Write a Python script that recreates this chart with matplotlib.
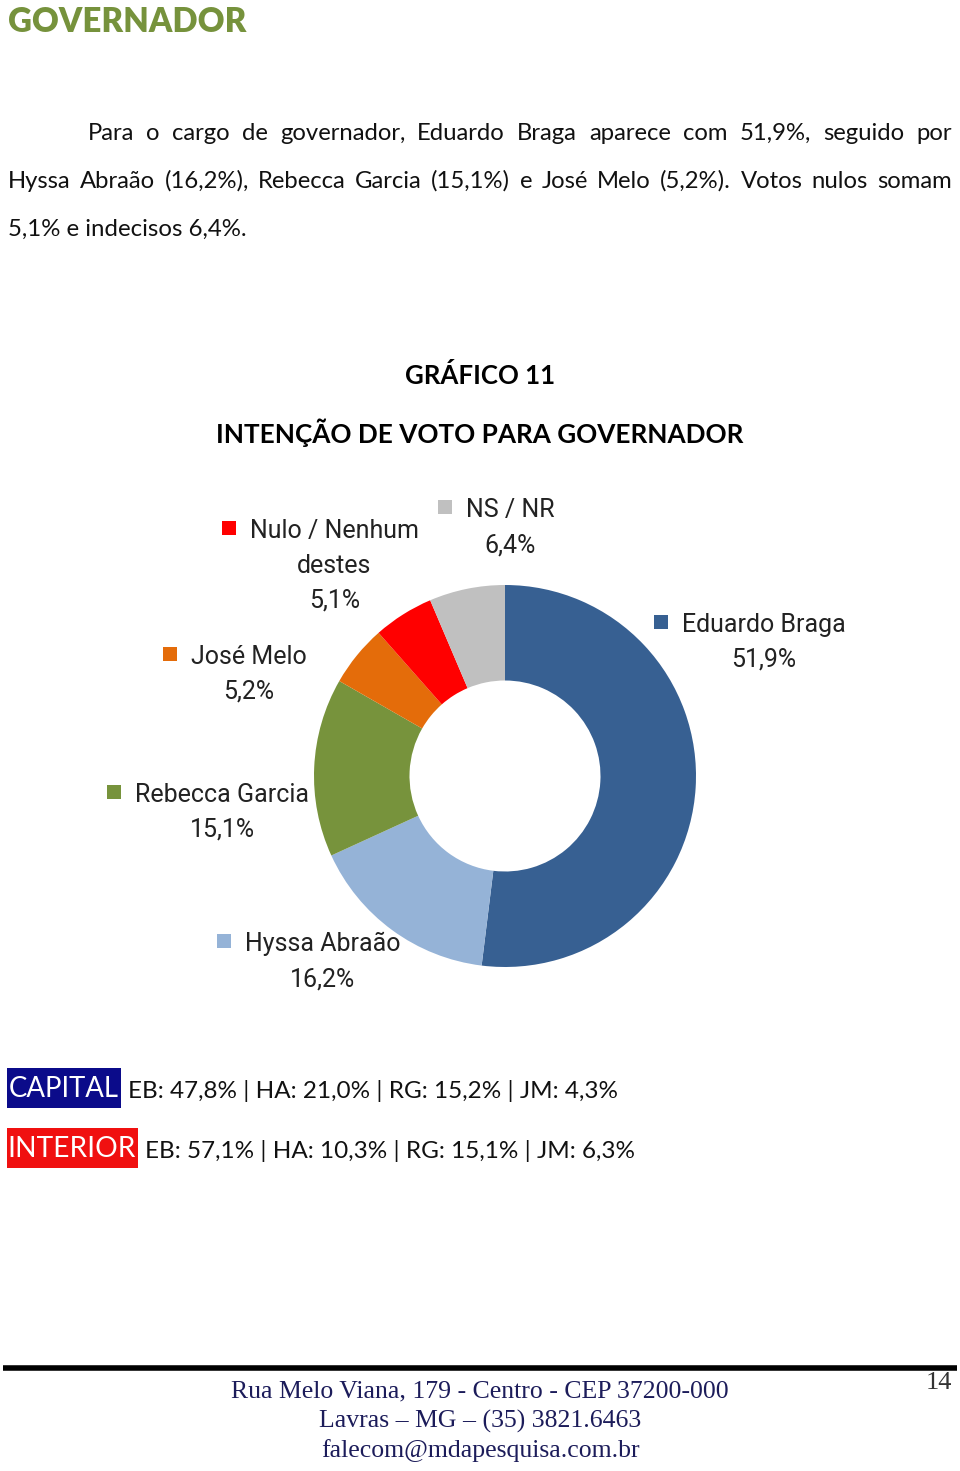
import matplotlib
matplotlib.use('Agg')
import matplotlib.pyplot as plt
from matplotlib.patches import Rectangle
from matplotlib.lines import Line2D
import warnings
warnings.filterwarnings('ignore')

W, H = 960, 1471

# ─── DATA ─────────────────────────────────────────────────────────────────────
slice_names  = ['Eduardo Braga', 'Hyssa Abraão', 'Rebecca Garcia', 'José Melo',
                'Nulo / Nenhum\ndestes', 'NS / NR']
slice_values = [51.9, 16.2, 15.1, 5.2, 5.1, 6.4]
slice_colors = ['#376092', '#95B3D7', '#77933C', '#E46C0A', '#FF0000', '#C0C0C0']

region_codes  = ['EB', 'HA', 'RG', 'JM']
capital_vals  = [47.8, 21.0, 15.2, 4.3]
interior_vals = [57.1, 10.3, 15.1, 6.3]

para_lines = [
    "Para o cargo de governador, Eduardo Braga aparece com 51,9%, seguido por",
    "Hyssa Abraão (16,2%), Rebecca Garcia (15,1%) e José Melo (5,2%). Votos nulos somam",
    "5,1% e indecisos 6,4%.",
]
footer_lines = ["Rua Melo Viana, 179 - Centro - CEP 37200-000",
                "Lavras – MG – (35) 3821.6463",
                "falecom@mdapesquisa.com.br"]

# legend square position (px) for each slice, same order as slice_names
label_pos = [(661, 622), (224, 941), (114, 792), (170, 654), (229, 528), (445, 507)]

BODY = ['Lato', 'DejaVu Sans']
NARROW = ['Liberation Sans Narrow', 'Roboto', 'DejaVu Sans']
SERIF = ['Liberation Serif', 'DejaVu Serif']

fmt = lambda v: f"{v:.1f}".replace('.', ',') + '%'

fig = plt.figure(figsize=(W / 100, H / 100), dpi=100)
fig.patch.set_facecolor('white')
renderer = fig.canvas.get_renderer()


def put(x, y, s, size, width=None, ha='left', **kw):
    t = fig.text(x / W, 1 - y / H, s, fontsize=size, ha=ha, va='center', **kw)
    if width:
        w = t.get_window_extent(renderer).width
        t.set_fontsize(size * width / w)
    return t


def justify(line, x0, x1, y, size, **kw):
    words = line.split()
    ts = [fig.text(0, 1 - y / H, w, fontsize=size, va='center', **kw) for w in words]
    widths = [t.get_window_extent(renderer).width for t in ts]
    gap = (x1 - x0 - sum(widths)) / (len(words) - 1)
    x = x0
    for t, w in zip(ts, widths):
        t.set_x(x / W)
        x += w + gap


def box(x0, y0, x1, y1, color):
    fig.add_artist(Rectangle((x0 / W, 1 - y1 / H), (x1 - x0) / W, (y1 - y0) / H,
                             transform=fig.transFigure, facecolor=color, edgecolor='none'))


# ─── HEADER + PARAGRAPH ───────────────────────────────────────────────────────
put(8, 22, 'GOVERNADOR', 28, width=238, color='#76923C', fontweight='heavy', family=BODY)

justify(para_lines[0], 88, 952, 133, 17.2, family=BODY, color='#111111')
justify(para_lines[1], 8, 952, 181, 17.2, family=BODY, color='#111111')
put(8, 229, para_lines[2], 17.2, width=238, family=BODY, color='#111111')

put(480, 376, 'GRÁFICO 11', 19, width=150, ha='center', fontweight='bold', family=BODY)
put(480, 433, 'INTENÇÃO DE VOTO PARA GOVERNADOR', 19, width=527, ha='center',
    fontweight='bold', family=BODY)

# ─── DONUT ────────────────────────────────────────────────────────────────────
cx, cy, r = 505, 776, 191
ax = fig.add_axes([(cx - r) / W, 1 - (cy + r) / H, 2 * r / W, 2 * r / H])
ax.pie(slice_values, colors=slice_colors, startangle=90, counterclock=False,
       radius=1, wedgeprops=dict(width=0.5, edgecolor='none'))
ax.set_xlim(-1, 1)
ax.set_ylim(-1, 1)
ax.set_aspect('equal')
ax.axis('off')

for name, val, col, (sx, sy) in zip(slice_names, slice_values, slice_colors, label_pos):
    box(sx - 7, sy - 7, sx + 7, sy + 7, col)
    lines = name.split('\n')
    t = put(sx + 21, sy + 3, lines[0], 18, family=NARROW, color='#222222')
    w = t.get_window_extent(renderer).width
    mid = sx + 21 + w / 2
    extra = lines[1:] + [fmt(val)]
    for i, s in enumerate(extra):
        put(mid, sy + 3 + 35 * (i + 1), s, 18, ha='center', family=NARROW, color='#222222')

# ─── CAPITAL / INTERIOR ───────────────────────────────────────────────────────
cap_str = ' | '.join(f"{c}: {fmt(v)}" for c, v in zip(region_codes, capital_vals))
int_str = ' | '.join(f"{c}: {fmt(v)}" for c, v in zip(region_codes, interior_vals))

box(7, 1068, 121, 1108, '#0B0B8A')
put(64, 1089, 'CAPITAL', 22, width=110, ha='center', color='white', family=BODY)
put(128, 1091, cap_str, 16, width=491, family=BODY, color='#111111')

box(7, 1128, 138, 1168, '#F01010')
put(72, 1149, 'INTERIOR', 22, width=127, ha='center', color='white', family=BODY)
put(145, 1151, int_str, 16, width=491, family=BODY, color='#111111')

# ─── FOOTER ───────────────────────────────────────────────────────────────────
fig.add_artist(Line2D([3 / W, 957 / W], [1 - 1368 / H] * 2, transform=fig.transFigure,
                      color='black', linewidth=4, solid_capstyle='butt'))
for i, s in enumerate(footer_lines):
    put(480, 1391 + 30 * i, s, 18.5, ha='center', family=SERIF, color='#1C1C5A')
put(952, 1383, '14', 19, ha='right', family=SERIF, color='#333333')

fig.savefig('out.png', dpi=100, facecolor='white')
